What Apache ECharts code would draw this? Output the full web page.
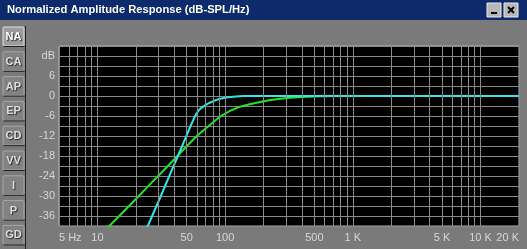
<!DOCTYPE html>
<html><head><meta charset="utf-8">
<script src="https://cdn.jsdelivr.net/npm/echarts@6/dist/echarts.min.js"></script>
<style>html,body{margin:0;padding:0;background:#7a7a7a;}#c{width:527px;height:249px;}</style>
</head><body><div id="c"></div>
<script>
// ---- data ----
const titleText = 'Normalized Amplitude Response (dB-SPL/Hz)';
const tabLabels = ['NA', 'CA', 'AP', 'EP', 'CD', 'VV', 'I', 'P', 'GD'];
const xTickValues = [5, 10, 50, 100, 500, 1000, 5000, 10000, 20000];
const xTickLabels = ['5 Hz', '10', '50', '100', '500', '1 K', '5 K', '10 K', '20 K'];
const xGridValues = [5, 6, 7, 8, 9, 10, 20, 30, 40, 50, 60, 70, 80, 90, 100, 200, 300, 400, 500, 600, 700, 800, 900,
  1000, 2000, 3000, 4000, 5000, 6000, 7000, 8000, 9000, 10000, 20000];
const yTickValues = [12, 6, 0, -6, -12, -18, -24, -30, -36];
const yTickLabels = ['dB', '6', '0', '-6', '-12', '-18', '-24', '-30', '-36'];
const greenFreq = [10.5, 12.4, 18.0, 25.8, 35, 43.0, 52, 60.0, 68, 76.0, 84, 92.8, 110, 130.7, 150, 176, 220, 260, 305, 400, 553, 700, 20000];
const greenDb   = [-41.8, -39.0, -32.7, -26.5, -21.3, -17.7, -14.4, -12.0, -10.2, -8.7, -7.3, -6.0, -4.4, -3.2, -2.6, -2.0, -1.3, -0.9, -0.6, -0.3, -0.05, 0, 0];
const cyanFreq  = [22.7, 24.8, 30.9, 36.9, 43.0, 49.7, 54, 57.5, 60, 62.5, 65, 67.8, 71, 74.9, 80, 85.1, 92, 102, 115, 138, 20000];
const cyanDb    = [-42.5, -39.0, -30.6, -23.6, -17.7, -12.0, -8.7, -6.4, -5.1, -4.2, -3.6, -3.1, -2.6, -2.1, -1.6, -1.2, -0.8, -0.45, -0.2, 0, 0];

// ---- chart ----
const chart = echarts.init(document.getElementById('c'), null, {renderer: 'canvas'});
const FONT = '"Liberation Sans", Arial, sans-serif';
const LBL = '#d6d6d6';
const GRIDC = '#8a8a8a';

const graphics = [];
graphics.push({type: 'rect', shape: {x: 0, y: 0, width: 527, height: 20}, style: {fill: '#0c2a6c'}, z: 10});
graphics.push({type: 'text', x: 7, y: 10, style: {text: titleText, fill: '#ffffff', font: 'bold 11.2px ' + FONT, textVerticalAlign: 'middle'}, z: 11});
[[487, 'min'], [504, 'close']].forEach(([bx, kind]) => {
  graphics.push({type: 'rect', shape: {x: bx, y: 3, width: 14, height: 14}, style: {fill: '#b8b8b8', stroke: '#e8e8e8', lineWidth: 1}, z: 11});
  if (kind === 'min') {
    graphics.push({type: 'rect', shape: {x: bx + 4, y: 12, width: 6, height: 2}, style: {fill: '#000'}, z: 12});
  } else {
    graphics.push({type: 'line', shape: {x1: bx + 4, y1: 7, x2: bx + 10, y2: 13}, style: {stroke: '#000', lineWidth: 2}, z: 12});
    graphics.push({type: 'line', shape: {x1: bx + 10, y1: 7, x2: bx + 4, y2: 13}, style: {stroke: '#000', lineWidth: 2}, z: 12});
  }
});
graphics.push({type: 'line', shape: {x1: 25.5, y1: 26, x2: 25.5, y2: 249}, style: {stroke: '#1e1e1e', lineWidth: 1}, z: 10});
tabLabels.forEach((t, i) => {
  const ty = 27 + i * 24.8;
  const sel = i === 0;
  graphics.push({type: 'rect', shape: {x: 3, y: ty, width: 21, height: 19, r: 1},
    style: {fill: sel ? '#9c9c9c' : '#828282', stroke: sel ? '#e0e0e0' : '#a8a8a8', lineWidth: 1}, z: 10});
  graphics.push({type: 'line', shape: {x1: 3.5, y1: ty + 19.5, x2: 24.5, y2: ty + 19.5}, style: {stroke: '#202020', lineWidth: 1}, z: 10});
  graphics.push({type: 'text', x: 13.5, y: ty + 10, style: {text: t, fill: sel ? '#ffffff' : '#dcdcdc', font: 'bold 11px ' + FONT,
    textAlign: 'center', textVerticalAlign: 'middle', textShadowColor: '#303030', textShadowBlur: 1, textShadowOffsetX: 1, textShadowOffsetY: 1}, z: 11});
});

const option = {
  animation: false,
  backgroundColor: '#7a7a7a',
  graphic: graphics,
  grid: {left: 59, right: 8, top: 46, bottom: 23, show: true, backgroundColor: '#000', borderColor: '#b0b0b0', borderWidth: 1},
  xAxis: {type: 'log', logBase: 10, min: 5, max: 20000,
    axisLabel: {show: false}, axisTick: {show: false}, axisLine: {show: false}, splitLine: {show: false}},
  yAxis: {type: 'value', min: -39, max: 15, interval: 3,
    axisLine: {show: false}, axisTick: {show: false},
    axisLabel: {color: LBL, fontSize: 11, fontFamily: FONT, margin: 4, padding: [4, 0, 0, 0],
      formatter: v => { const k = yTickValues.indexOf(v); return k >= 0 ? yTickLabels[k] : ''; }},
    splitLine: {show: true, lineStyle: {color: GRIDC, width: 1}}},
  series: [
    {type: 'line', data: [], silent: true, z: 1,
      markLine: {silent: true, symbol: 'none', animation: false,
        lineStyle: {color: GRIDC, type: 'solid', width: 1}, label: {show: false},
        emphasis: {disabled: true},
        data: xGridValues.map(v => ({xAxis: v}))}},
    {type: 'line', data: [], silent: true, z: 1,
      markLine: {silent: true, symbol: 'none', animation: false,
        lineStyle: {color: 'rgba(0,0,0,0)', width: 0}, emphasis: {disabled: true},
        data: xTickValues.map((v, i) => ({xAxis: v,
          label: {show: true, position: 'start', distance: 6, formatter: xTickLabels[i], color: LBL, fontSize: 11, fontFamily: FONT,
            align: i === 0 ? 'left' : (i === xTickValues.length - 1 ? 'right' : 'center')}}))}},
    {type: 'line', name: 'green', data: greenFreq.map((f, i) => [f, greenDb[i]]), showSymbol: false,
      lineStyle: {color: '#22e622', width: 2}, z: 3},
    {type: 'line', name: 'cyan', data: cyanFreq.map((f, i) => [f, cyanDb[i]]), showSymbol: false,
      lineStyle: {color: '#33e6e6', width: 2}, z: 4}
  ]
};
chart.setOption(option);
</script></body></html>
